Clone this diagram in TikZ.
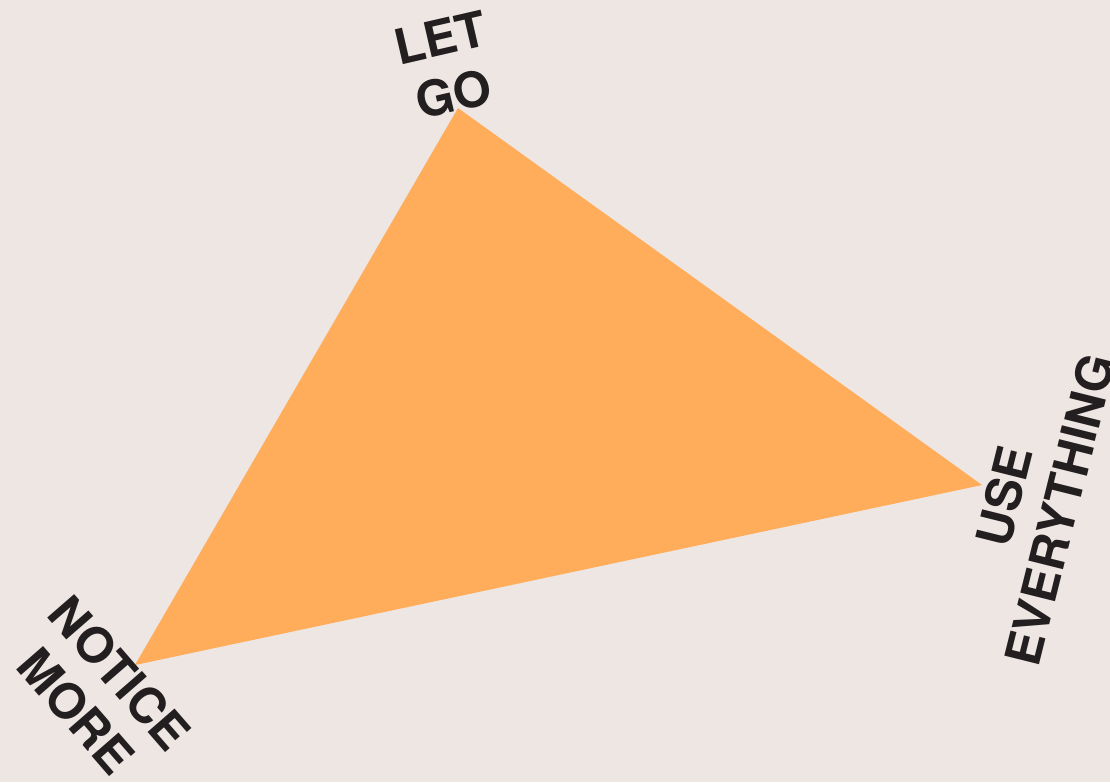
\documentclass[tikz,border=0pt]{standalone}
\usepackage{fontspec}
\setmainfont{TeX Gyre Heros}
\usepackage{xcolor}
\usepackage{tikz}
\usetikzlibrary{positioning}
\definecolor{paperbg}{RGB}{237,230,227}
\definecolor{triorange}{RGB}{255,173,90}
\definecolor{inkdark}{RGB}{35,31,32}

\begin{document}
\begin{tikzpicture}[x=1pt,y=-1pt,
  corner/.style={text=inkdark, align=center, inner sep=0pt,
    font=\fontsize{49}{58}\selectfont\bfseries}]
% Background
\fill[paperbg] (0,0) rectangle (1110,782);
\useasboundingbox (0,0) rectangle (1110,782);

% Triangle corners
\coordinate (top) at (458,108);
\coordinate (right) at (982,485);
\coordinate (left) at (135,665);
\fill[triorange] (top) -- (right) -- (left) -- cycle;

% Corner labels
\node[corner, rotate=13] (letgo) at (447,66) {LET\\GO};
\node[corner, rotate=76] (useall) at (1032,503) {USE\\EVERYTHING};
\node[corner, rotate=-49] (notice) at (98,692) {NOTICE\\MORE};
\end{tikzpicture}
\end{document}
